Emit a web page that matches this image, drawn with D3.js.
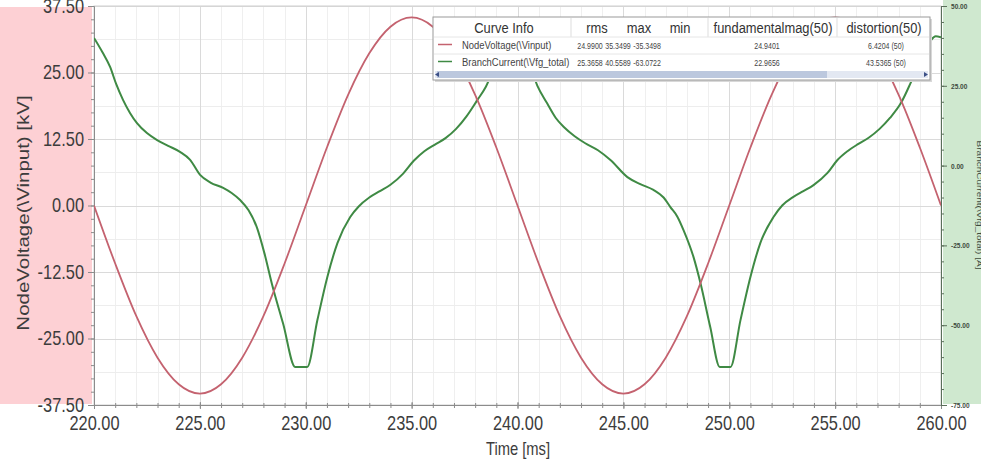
<!DOCTYPE html>
<html>
<head>
    <meta charset="utf-8">
    <title>NodeVoltage / BranchCurrent</title>
    <script src="https://cdnjs.cloudflare.com/ajax/libs/d3/7.8.5/d3.min.js"></script>
    <style>
        body {
            margin: 0;
            background: #fff;
            font-family: "Liberation Sans", Arial, sans-serif;
        }
        svg { display: block; }
        .tick text { fill: #3c3c3c; }
        .grid line { shape-rendering: crispEdges; }
        .grid path { display: none; }
    </style>
</head>
<body>
<div id="chart"></div>
<script>
// Red curve: NodeVoltage(\Vinput) in kV, read every 1 ms
const timeMs = [220, 221, 222, 223, 224, 225, 226, 227, 228, 229,
                230, 231, 232, 233, 234, 235, 236, 237, 238, 239,
                240, 241, 242, 243, 244, 245, 246, 247, 248, 249,
                250, 251, 252, 253, 254, 255, 256, 257, 258, 259, 260];
const voltageKV = [0, -10.9, -20.8, -28.6, -33.6, -35.35, -33.6, -28.6, -20.8, -10.9,
                   0, 10.9, 20.8, 28.6, 33.6, 35.35, 33.6, 28.6, 20.8, 10.9,
                   0, -10.9, -20.8, -28.6, -33.6, -35.35, -33.6, -28.6, -20.8, -10.9,
                   0, 10.9, 20.8, 28.6, 33.6, 35.35, 33.6, 28.6, 20.8, 10.9, 0];

// Green curve: BranchCurrent(\Vfg_total), right axis
const currentTimeMs = [220, 220.4, 220.76, 221.05, 221.37, 221.7, 222.03, 222.5, 222.98, 223.5,
                       224.06, 224.54, 225.01, 225.5, 226.1, 226.5, 226.9, 227.3, 227.7, 228.05,
                       228.4, 228.93, 229.5, 230.07, 230.55, 231.02, 231.5, 232.1, 232.5, 233.0,
                       233.5, 234.0, 234.6, 235.1, 235.6, 236.1, 236.6, 237.1, 237.6, 238.1,
                       238.5, 239.1, 239.5, 239.75,
                       240, 240.4, 240.94, 241.4, 241.8, 242.2, 242.7, 243.2, 243.8, 244.39,
                       245.19, 245.8, 246.42, 246.9, 247.22, 247.55, 247.84, 248.31, 248.64, 249.1,
                       249.55, 250.06, 250.53, 251.0, 251.47, 252.09, 252.5, 253.03, 253.5, 253.98,
                       254.64, 255.11, 255.6, 256.1, 256.6, 257.1, 257.6, 258.1, 258.7, 259.2,
                       259.55, 259.75, 260];
const currentA = [40.0, 35.5, 30.9, 25.5, 20.6, 16.5, 13.3, 10.2, 8.0, 6.2,
                  4.3, 1.8, -2.9, -5.3, -7.0, -8.6, -10.8, -14.0, -19.5, -27.5,
                  -37.0, -49.5, -63.07, -63.07, -48.4, -34.9, -24.2, -16.1, -12.8, -10.0,
                  -8.0, -6.0, -2.5, 1.5, 4.5, 6.6, 8.6, 11.5, 15.5, 20.5,
                  24.6, 34.0, 39.0, 40.56,
                  40.0, 35.0, 25.0, 19.5, 15.0, 12.0, 9.2, 7.0, 4.8, 1.75,
                  -3.6, -5.8, -7.6, -10.0, -13.0, -16.0, -20.2, -28.6, -36.8, -50.5,
                  -63.07, -63.07, -48.4, -34.9, -24.2, -16.1, -12.5, -9.8, -8.0, -6.1,
                  -2.3, 1.75, 4.6, 6.8, 8.8, 11.5, 15.0, 19.5, 27.8, 34.5,
                  39.5, 40.56, 40.2];

const xTicks = [220, 225, 230, 235, 240, 245, 250, 255, 260];
const voltageTicks = [-37.5, -25, -12.5, 0, 12.5, 25, 37.5];
const currentTicks = [-75, -50, -25, 0, 25, 50];

// Curve info table
const legendHeaders = ["Curve Info", "rms", "max", "min", "fundamentalmag(50)", "distortion(50)"];
const curveNames = ["NodeVoltage(\\Vinput)", "BranchCurrent(\\Vfg_total)"];
const rmsValues = ["24.9900", "25.3658"];
const maxValues = ["35.3499", "40.5589"];
const minValues = ["-35.3498", "-63.0722"];
const fundamentalValues = ["24.9401", "22.9656"];
const distortionValues = ["6.4204 (50)", "43.5365 (50)"];

const W = 981, H = 466;
const plot = { left: 94, right: 941, top: 6, bottom: 405 };
const redColor = "#c4626f";
const greenColor = "#3f8a44";
const squeeze = 0.82;   // the picture's text is horizontally narrow
const fmt = d => d.toFixed(2);

const svg = d3.select("#chart").append("svg")
    .attr("width", W)
    .attr("height", H);

function narrowText(parent, x, y, str, size, anchor, sx) {
    return parent.append("text")
        .attr("transform", `translate(${x},${y}) scale(${sx || squeeze},1)`)
        .attr("text-anchor", anchor || "start")
        .style("font-size", size + "px")
        .text(str);
}

// Scales
const x = d3.scaleLinear().domain([220, 260]).range([plot.left, plot.right]);
const yV = d3.scaleLinear().domain([-37.5, 37.5]).range([plot.bottom, plot.top]);
const yA = d3.scaleLinear().domain([-75, 50]).range([plot.bottom, plot.top]);

// Axis side panels
svg.append("rect").attr("x", 0).attr("y", 7).attr("width", 92).attr("height", 397).attr("fill", "#fdd0d4");
svg.append("rect").attr("x", 943).attr("y", 0).attr("width", 38).attr("height", 404).attr("fill", "#cfe8cf");

const plotH = plot.bottom - plot.top;
const plotW = plot.right - plot.left;

// Grid: minor then major
svg.append("g").attr("class", "grid")
    .attr("transform", `translate(0,${plot.bottom})`)
    .call(d3.axisBottom(x).tickValues(d3.range(220, 261, 1)).tickSize(-plotH).tickFormat(""))
    .selectAll("line").attr("stroke", "#efefef");
svg.append("g").attr("class", "grid")
    .attr("transform", `translate(${plot.left},0)`)
    .call(d3.axisLeft(yV).tickValues(d3.range(-37.5, 37.6, 6.25)).tickSize(-plotW).tickFormat(""))
    .selectAll("line").attr("stroke", "#ededed");
svg.append("g").attr("class", "grid")
    .attr("transform", `translate(0,${plot.bottom})`)
    .call(d3.axisBottom(x).tickValues(xTicks).tickSize(-plotH).tickFormat(""))
    .selectAll("line").attr("stroke", "#dadada");
svg.append("g").attr("class", "grid")
    .attr("transform", `translate(${plot.left},0)`)
    .call(d3.axisLeft(yV).tickValues(voltageTicks).tickSize(-plotW).tickFormat(""))
    .selectAll("line").attr("stroke", "#dadada");

svg.append("rect")
    .attr("x", plot.left).attr("y", plot.top)
    .attr("width", plotW).attr("height", plotH)
    .attr("fill", "none").attr("stroke", "#cfcfcf");

// Left axis
const leftMinor = svg.append("g")
    .attr("transform", `translate(${plot.left},0)`)
    .call(d3.axisLeft(yV).tickValues(d3.range(-37.5, 37.6, 2.5)).tickSize(3).tickFormat(""));
leftMinor.select(".domain").remove();
leftMinor.selectAll("line").attr("stroke", "#8c8c8c");

const leftAxis = svg.append("g")
    .attr("transform", `translate(${plot.left},0)`)
    .call(d3.axisLeft(yV).tickValues(voltageTicks).tickFormat(fmt).tickSize(6).tickPadding(6.2));
leftAxis.select(".domain").attr("stroke", "#8c8c8c");
leftAxis.selectAll("line").attr("stroke", "#8c8c8c");
leftAxis.selectAll("text").style("font-size", "20px").attr("transform", `scale(${squeeze},1)`);

// Bottom axis
const botMinor = svg.append("g")
    .attr("transform", `translate(0,${plot.bottom})`)
    .call(d3.axisBottom(x).tickValues(d3.range(220, 261, 1)).tickSize(3).tickFormat(""));
botMinor.select(".domain").remove();
botMinor.selectAll("line").attr("stroke", "#8c8c8c").attr("y1", -2);

const botAxis = svg.append("g")
    .attr("transform", `translate(0,${plot.bottom})`)
    .call(d3.axisBottom(x).tickValues(xTicks).tickFormat(fmt).tickSize(4).tickPadding(7));
botAxis.select(".domain").attr("stroke", "#8c8c8c");
botAxis.selectAll("line").attr("stroke", "#8c8c8c").attr("y1", -3);
botAxis.selectAll("text").style("font-size", "20px").attr("transform", `scale(${squeeze},1)`);

// Right axis
const rightMinor = svg.append("g")
    .attr("transform", `translate(${plot.right},0)`)
    .call(d3.axisRight(yA).tickValues(d3.range(-75, 51, 5)).tickSize(3).tickFormat(""));
rightMinor.select(".domain").remove();
rightMinor.selectAll("line").attr("stroke", "#5a6f5a");

const rightAxis = svg.append("g")
    .attr("transform", `translate(${plot.right},0)`)
    .call(d3.axisRight(yA).tickValues(currentTicks).tickFormat(fmt).tickSize(6).tickPadding(6.2));
rightAxis.select(".domain").attr("stroke", "#5a6f5a");
rightAxis.selectAll("line").attr("stroke", "#5a6f5a");
rightAxis.selectAll("text")
    .style("font-size", "8px").style("fill", "#3d4a3d").style("font-weight", "bold")
    .attr("transform", `scale(${squeeze},1)`);

// Axis titles
svg.append("text")
    .attr("transform", "translate(29,213) rotate(-90) scale(1,0.8)")
    .attr("text-anchor", "middle")
    .style("font-size", "20.5px")
    .style("fill", "#3c3c3c")
    .text("NodeVoltage(\\Vinput) [kV]");

svg.append("text")
    .attr("transform", "translate(977,205) rotate(90) scale(1,0.8)")
    .attr("text-anchor", "middle")
    .style("font-size", "10px")
    .style("fill", "#3d4a3d")
    .text("BranchCurrent(\\Vfg_total) [A]");

narrowText(svg, 518, 455, "Time [ms]", 18, "middle").style("fill", "#3c3c3c");

// Curves
svg.append("clipPath").attr("id", "plotClip")
    .append("rect").attr("x", plot.left).attr("y", plot.top).attr("width", plotW).attr("height", plotH);

const voltageLine = d3.line()
    .x((d, i) => x(timeMs[i]))
    .y(d => yV(d))
    .curve(d3.curveMonotoneX);

const currentLine = d3.line()
    .x((d, i) => x(currentTimeMs[i]))
    .y(d => yA(d))
    .curve(d3.curveMonotoneX);

const curves = svg.append("g").attr("clip-path", "url(#plotClip)");
curves.append("path")
    .attr("d", currentLine(currentA))
    .attr("fill", "none")
    .attr("stroke", greenColor)
    .attr("stroke-width", 2);
curves.append("path")
    .attr("d", voltageLine(voltageKV))
    .attr("fill", "none")
    .attr("stroke", redColor)
    .attr("stroke-width", 1.8);

// Curve info table
const lg = svg.append("g").attr("transform", "translate(433,17)");
const lgW = 497, lgH = 63;
lg.append("rect").attr("x", 2).attr("y", 2).attr("width", lgW).attr("height", lgH).attr("fill", "#d8d8d8");
lg.append("rect").attr("width", lgW).attr("height", lgH).attr("fill", "#fff").attr("stroke", "#9a9a9a");

[138, 275, 404].forEach(sx => {
    lg.append("line").attr("x1", sx).attr("x2", sx).attr("y1", 1).attr("y2", 20).attr("stroke", "#dddddd");
});
[20, 37].forEach(sy => {
    lg.append("line").attr("x1", 1).attr("x2", lgW - 1).attr("y1", sy).attr("y2", sy).attr("stroke", "#e6e6e6");
});

const headerX = [71, 164, 206, 247, 340, 451];
legendHeaders.forEach((h, i) => {
    narrowText(lg, headerX[i], 16, h, 15, "middle", 0.86).style("fill", "#333");
});

const rowY = [28, 45];
const rowColors = [redColor, greenColor];
const valX = [157, 185, 214, 334, 453];
curveNames.forEach((name, r) => {
    lg.append("line")
        .attr("x1", 5).attr("x2", 19)
        .attr("y1", rowY[r] - 0.5).attr("y2", rowY[r] - 0.5)
        .attr("stroke", rowColors[r]).attr("stroke-width", 1.5);
    narrowText(lg, 29, rowY[r] + 3.5, name, 11.5, "start", 0.82).style("fill", "#444");
    const vals = [rmsValues[r], maxValues[r], minValues[r], fundamentalValues[r], distortionValues[r]];
    vals.forEach((v, c) => {
        narrowText(lg, valX[c], rowY[r] + 3.5, v, 9.5, "middle", 0.74).style("fill", "#444");
    });
});

// scroll bar
lg.append("rect").attr("x", 2).attr("y", 54).attr("width", lgW - 4).attr("height", 7).attr("fill", "#e3e8f2");
lg.append("rect").attr("x", 4).attr("y", 54).attr("width", 390).attr("height", 7).attr("fill", "#bcc8de");
lg.append("path").attr("d", "M2,57.5 L6,55 L6,60 Z").attr("fill", "#3b4f86");
lg.append("path").attr("d", `M${lgW - 2},57.5 L${lgW - 6},55 L${lgW - 6},60 Z`).attr("fill", "#3b4f86");
</script>
</body>
</html>
